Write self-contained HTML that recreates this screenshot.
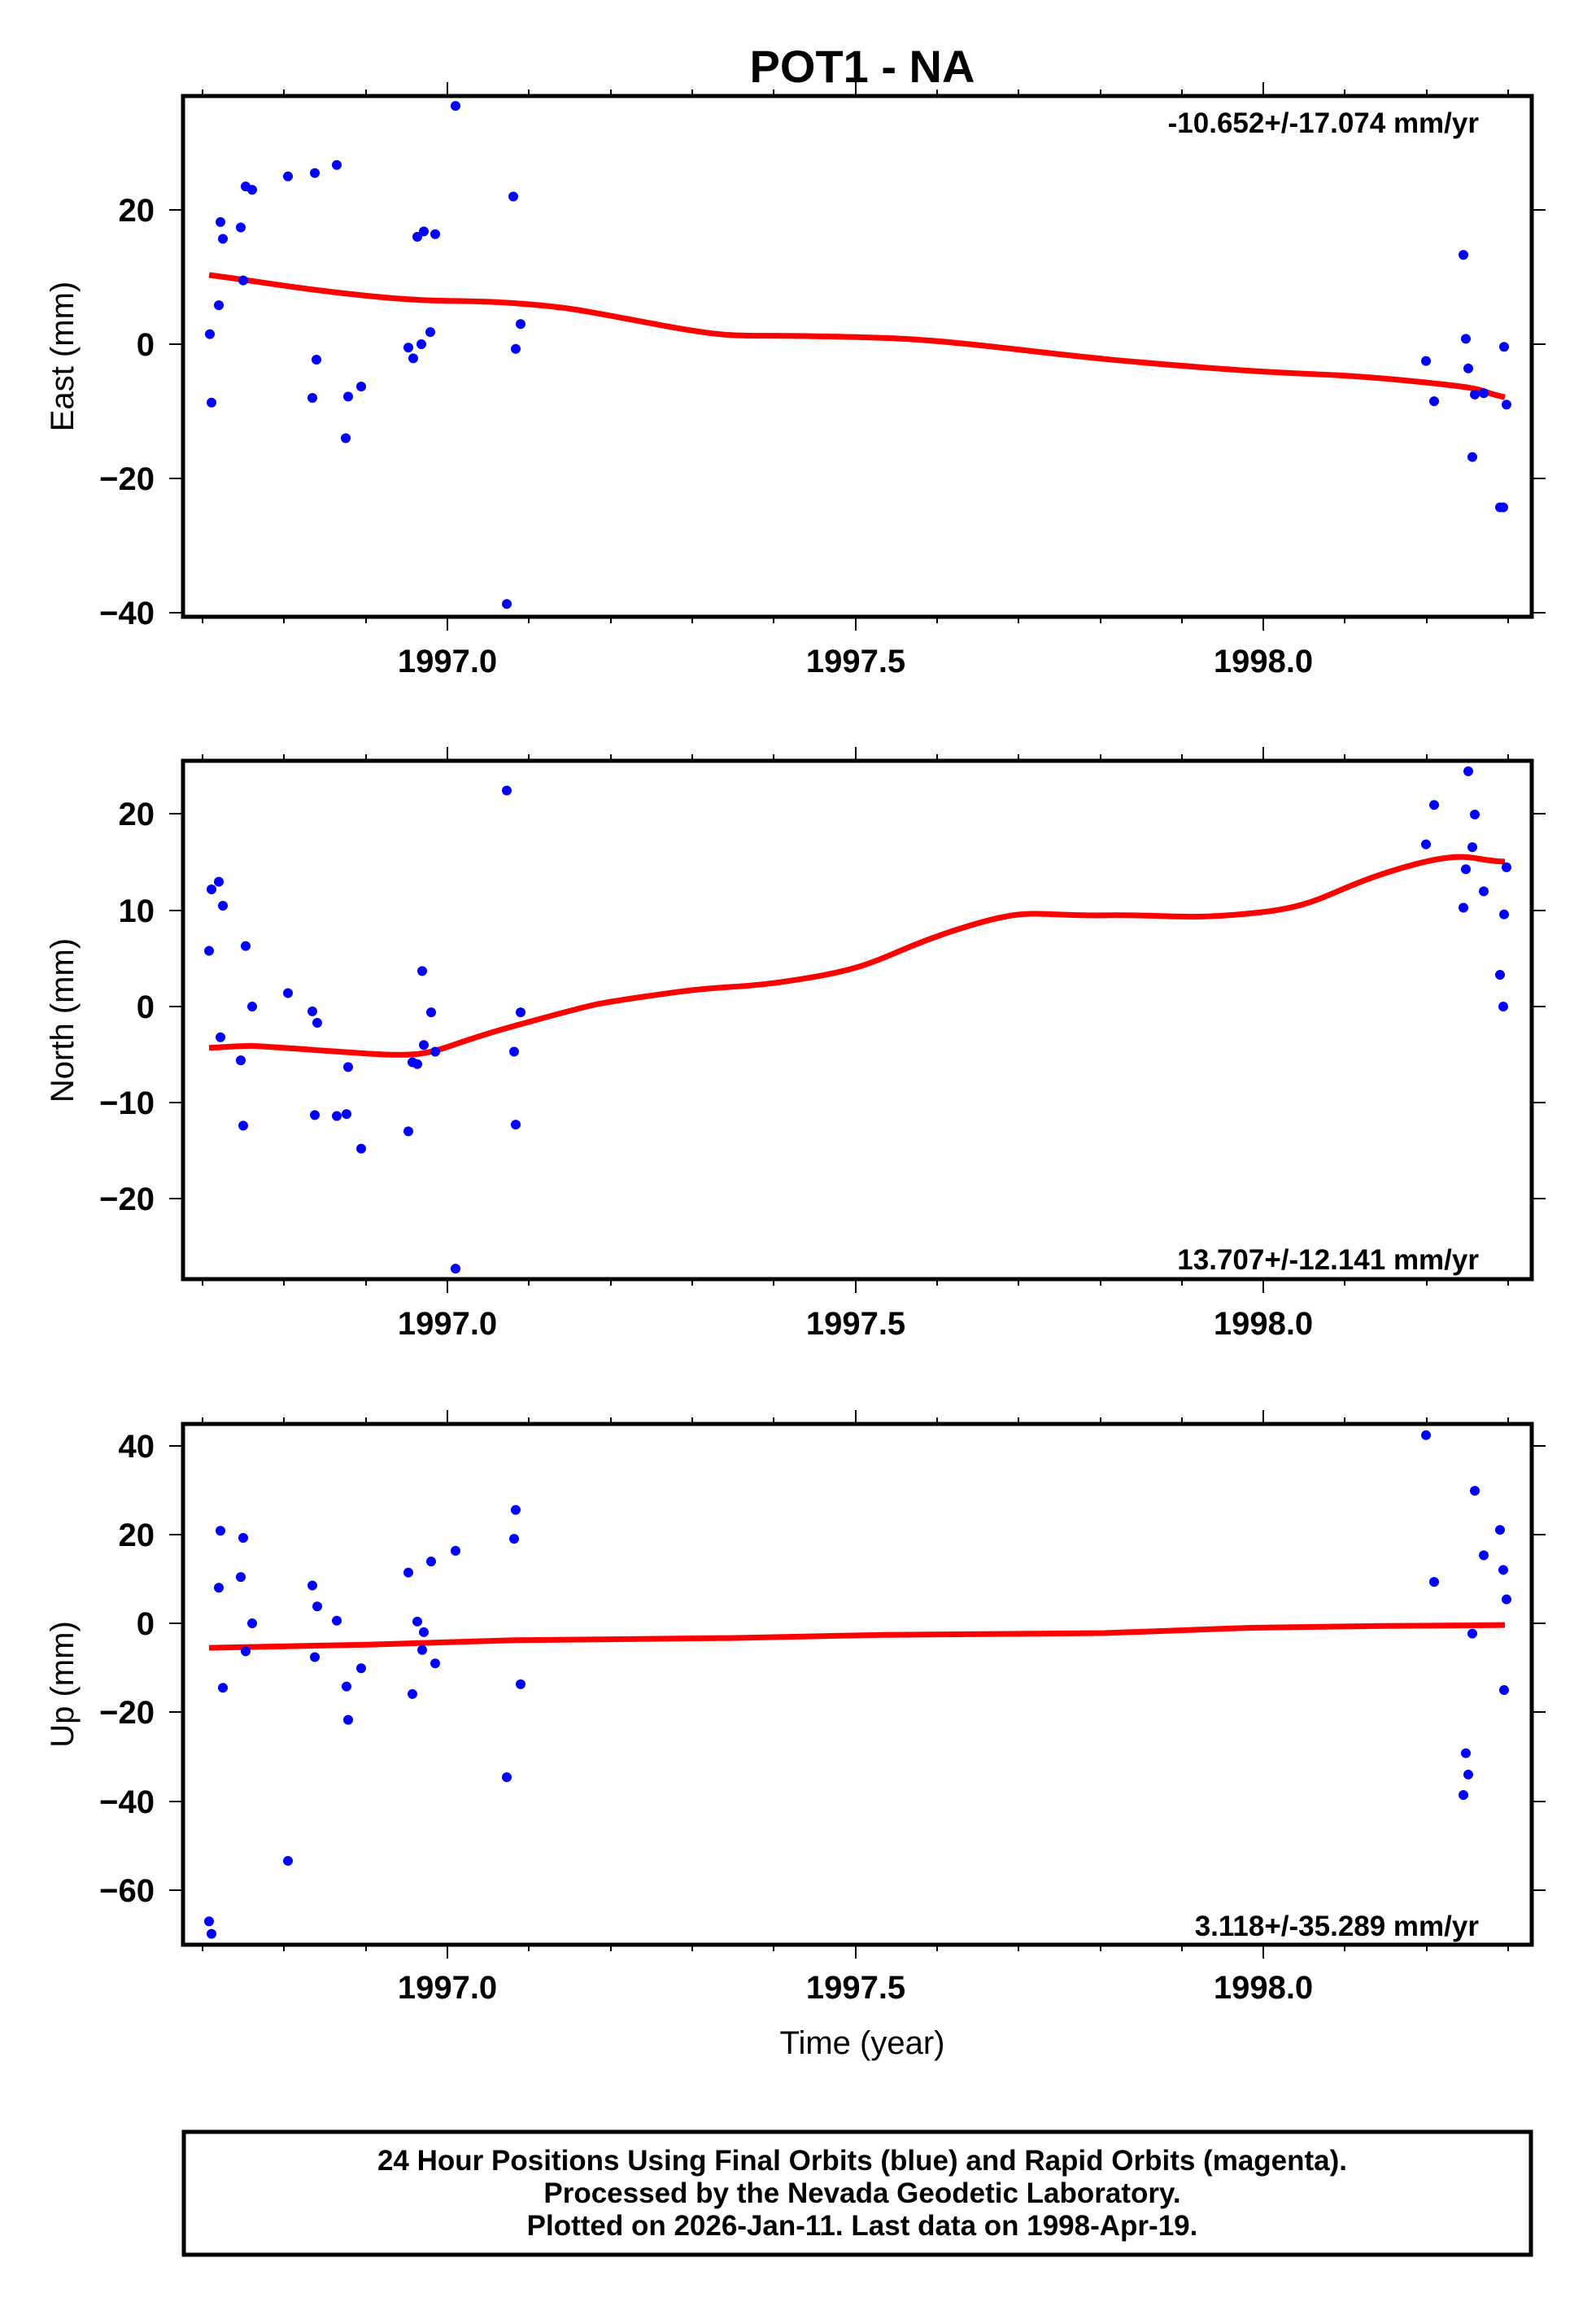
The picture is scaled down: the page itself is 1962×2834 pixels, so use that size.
<!DOCTYPE html>
<html><head><meta charset="utf-8"><style>html,body{margin:0;padding:0;background:#fff}svg{display:block}</style></head><body>
<svg width="1962" height="2834" viewBox="0 0 1962 2834" xmlns="http://www.w3.org/2000/svg" font-family="Liberation Sans, Arial, sans-serif">
<rect width="1962" height="2834" fill="#fff"/>
<text x="1060" y="101" font-size="56" font-weight="bold" text-anchor="middle">POT1 - NA</text>

<!-- ===== Panel 1 East ===== -->
<g stroke="#000" stroke-width="2" fill="none">
<path d="M249 118v-8M349 118v-8M450 118v-8M550 118v-17M650 118v-8M751 118v-8M851 118v-8M951 118v-8M1052 118v-17M1152 118v-8M1252 118v-8M1353 118v-8M1453 118v-8M1553 118v-17M1653 118v-8M1754 118v-8M1854 118v-8"/>
<path d="M249 758v8M349 758v8M450 758v8M550 758v17M650 758v8M751 758v8M851 758v8M951 758v8M1052 758v17M1152 758v8M1252 758v8M1353 758v8M1453 758v8M1553 758v17M1653 758v8M1754 758v8M1854 758v8"/>
<path d="M208 258h17M208 423h17M208 588h17M208 753h17M1883 258h17M1883 423h17M1883 588h17M1883 753h17"/>
</g>
<g font-size="40" font-weight="bold" text-anchor="end">
<text x="190" y="272">20</text><text x="190" y="437">0</text><text x="190" y="602">−20</text><text x="190" y="767">−40</text>
</g>
<g font-size="40" font-weight="bold" text-anchor="middle">
<text x="550" y="826">1997.0</text><text x="1052" y="826">1997.5</text><text x="1553" y="826">1998.0</text>
</g>
<text transform="translate(90,438) rotate(-90)" font-size="40" text-anchor="middle">East (mm)</text>
<text x="1818" y="163" font-size="35" font-weight="bold" text-anchor="end">-10.652+/-17.074 mm/yr</text>
<g transform="translate(0,423) scale(1,-8.25)">
<path vector-effect="non-scaling-stroke" fill="none" stroke="#f00" stroke-width="7" stroke-linejoin="round" d="M257 10.3C310 9.5 362 8.3 452 7.2S561 6.7 633 6.1S724 4.8 814 2.8S904 1.4 995 1.2S1121 1.0 1230 -0.5S1357 -2.3 1483 -3.5S1628 -4.2 1736 -5.5S1809 -6.8 1850 -7.9"/>
<path vector-effect="non-scaling-stroke" fill="none" stroke="#00f" stroke-width="12" stroke-linecap="round" d="M258 1.5h0M260 -8.7h0M269 5.8h0M271 18.2h0M274 15.7h0M296 17.4h0M299 9.5h0M302 23.5h0M310 23h0M354 25h0M387 25.5h0M389 -2.3h0M384 -8h0M414 26.7h0M425 -14h0M428 -7.8h0M444 -6.3h0M502 -0.5h0M508 -2.1h0M513 16h0M518 0h0M521 16.8h0M529 1.8h0M535 16.4h0M560 35.5h0M623 -38.7h0M631 22h0M634 -0.7h0M640 3h0M1753 -2.5h0M1763 -8.5h0M1799 13.3h0M1802 0.8h0M1805 -3.6h0M1810 -16.8h0M1813 -7.5h0M1824 -7.3h0M1844 -24.3h0M1848 -24.3h0M1849 -0.4h0M1852 -9h0"/>
</g>
<rect x="225" y="118" width="1658" height="640" fill="none" stroke="#000" stroke-width="5"/>

<!-- ===== Panel 2 North ===== -->
<g stroke="#000" stroke-width="2" fill="none">
<path d="M249 935v-8M349 935v-8M450 935v-8M550 935v-17M650 935v-8M751 935v-8M851 935v-8M951 935v-8M1052 935v-17M1152 935v-8M1252 935v-8M1353 935v-8M1453 935v-8M1553 935v-17M1653 935v-8M1754 935v-8M1854 935v-8"/>
<path d="M249 1572v8M349 1572v8M450 1572v8M550 1572v17M650 1572v8M751 1572v8M851 1572v8M951 1572v8M1052 1572v17M1152 1572v8M1252 1572v8M1353 1572v8M1453 1572v8M1553 1572v17M1653 1572v8M1754 1572v8M1854 1572v8"/>
<path d="M208 1000h17M208 1119h17M208 1237h17M208 1355h17M208 1473h17M1883 1000h17M1883 1119h17M1883 1237h17M1883 1355h17M1883 1473h17"/>
</g>
<g font-size="40" font-weight="bold" text-anchor="end">
<text x="190" y="1014">20</text><text x="190" y="1133">10</text><text x="190" y="1251">0</text><text x="190" y="1369">−10</text><text x="190" y="1487">−20</text>
</g>
<g font-size="40" font-weight="bold" text-anchor="middle">
<text x="550" y="1640">1997.0</text><text x="1052" y="1640">1997.5</text><text x="1553" y="1640">1998.0</text>
</g>
<text transform="translate(90,1254) rotate(-90)" font-size="40" text-anchor="middle">North (mm)</text>
<text x="1818" y="1560" font-size="35" font-weight="bold" text-anchor="end">13.707+/-12.141 mm/yr</text>
<g transform="translate(0,1237) scale(1,-11.8)">
<path vector-effect="non-scaling-stroke" fill="none" stroke="#f00" stroke-width="7" stroke-linejoin="round" d="M257 -4.3C280 -4.2 295 -4.1 308 -4.1S362 -4.4 452 -4.9S525 -4.5 633 -2S724 0.2 814 1.3S904 1.7 995 3S1085 5.5 1176 8S1266 9.4 1357 9.5S1447 9 1537 9.7S1628 12 1718 14.3S1809 15.1 1850 15.1"/>
<path vector-effect="non-scaling-stroke" fill="none" stroke="#00f" stroke-width="12" stroke-linecap="round" d="M257 5.8h0M260 12.2h0M269 13h0M271 -3.2h0M274 10.5h0M296 -5.6h0M299 -12.4h0M302 6.3h0M310 0h0M354 1.4h0M384 -0.5h0M387 -11.3h0M390 -1.7h0M414 -11.4h0M426 -11.2h0M428 -6.3h0M444 -14.8h0M502 -13h0M507 -5.8h0M513 -6h0M519 3.7h0M521 -4h0M530 -0.6h0M535 -4.7h0M560 -27.3h0M623 22.5h0M632 -4.7h0M634 -12.3h0M640 -0.6h0M1753 16.9h0M1763 21h0M1799 10.3h0M1802 14.3h0M1805 24.5h0M1813 20h0M1810 16.6h0M1824 12h0M1844 3.3h0M1848 0h0M1849 9.6h0M1852 14.5h0"/>
</g>
<rect x="225" y="935" width="1658" height="637" fill="none" stroke="#000" stroke-width="5"/>

<!-- ===== Panel 3 Up ===== -->
<g stroke="#000" stroke-width="2" fill="none">
<path d="M249 1750v-8M349 1750v-8M450 1750v-8M550 1750v-17M650 1750v-8M751 1750v-8M851 1750v-8M951 1750v-8M1052 1750v-17M1152 1750v-8M1252 1750v-8M1353 1750v-8M1453 1750v-8M1553 1750v-17M1653 1750v-8M1754 1750v-8M1854 1750v-8"/>
<path d="M249 2390v8M349 2390v8M450 2390v8M550 2390v17M650 2390v8M751 2390v8M851 2390v8M951 2390v8M1052 2390v17M1152 2390v8M1252 2390v8M1353 2390v8M1453 2390v8M1553 2390v17M1653 2390v8M1754 2390v8M1854 2390v8"/>
<path d="M208 1777h17M208 1886h17M208 1995h17M208 2104h17M208 2214h17M208 2323h17M1883 1777h17M1883 1886h17M1883 1995h17M1883 2104h17M1883 2214h17M1883 2323h17"/>
</g>
<g font-size="40" font-weight="bold" text-anchor="end">
<text x="190" y="1791">40</text><text x="190" y="1900">20</text><text x="190" y="2009">0</text><text x="190" y="2118">−20</text><text x="190" y="2228">−40</text><text x="190" y="2337">−60</text>
</g>
<g font-size="40" font-weight="bold" text-anchor="middle">
<text x="550" y="2456">1997.0</text><text x="1052" y="2456">1997.5</text><text x="1553" y="2456">1998.0</text>
</g>
<text transform="translate(90,2070) rotate(-90)" font-size="40" text-anchor="middle">Up (mm)</text>
<text x="1060" y="2524" font-size="40" text-anchor="middle">Time (year)</text>
<text x="1818" y="2379" font-size="35" font-weight="bold" text-anchor="end">3.118+/-35.289 mm/yr</text>
<g transform="translate(0,1995) scale(1,-5.467)">
<path vector-effect="non-scaling-stroke" fill="none" stroke="#f00" stroke-width="7" stroke-linejoin="round" d="M257 -5.5L452 -4.8L633 -3.8L904 -3.3L1085 -2.6L1357 -2.2L1537 -1L1700 -0.6L1850 -0.4"/>
<path vector-effect="non-scaling-stroke" fill="none" stroke="#00f" stroke-width="12" stroke-linecap="round" d="M257 -67h0M260 -69.8h0M269 8h0M271 20.8h0M274 -14.5h0M296 10.4h0M299 19.2h0M302 -6.3h0M310 0h0M354 -53.4h0M384 8.5h0M387 -7.6h0M390 3.8h0M414 0.6h0M426 -14.2h0M428 -21.7h0M444 -10.1h0M502 11.4h0M507 -15.9h0M513 0.4h0M519 -6h0M521 -2h0M530 13.9h0M535 -9h0M560 16.3h0M623 -34.6h0M632 19h0M634 25.5h0M640 -13.7h0M1753 42.3h0M1763 9.3h0M1799 -38.6h0M1802 -29.2h0M1805 -34h0M1810 -2.3h0M1813 29.8h0M1824 15.3h0M1844 21h0M1848 12h0M1849 -15h0M1852 5.4h0"/>
</g>
<rect x="225" y="1750" width="1658" height="640" fill="none" stroke="#000" stroke-width="5"/>

<!-- ===== Footer ===== -->
<rect x="226" y="2620" width="1656" height="151" fill="none" stroke="#000" stroke-width="5"/>
<g font-size="35" font-weight="bold" text-anchor="middle">
<text x="1060" y="2667">24 Hour Positions Using Final Orbits (blue) and Rapid Orbits (magenta).</text>
<text x="1060" y="2707">Processed by the Nevada Geodetic Laboratory.</text>
<text x="1060" y="2747">Plotted on 2026-Jan-11. Last data on 1998-Apr-19.</text>
</g>
</svg>
</body></html>
